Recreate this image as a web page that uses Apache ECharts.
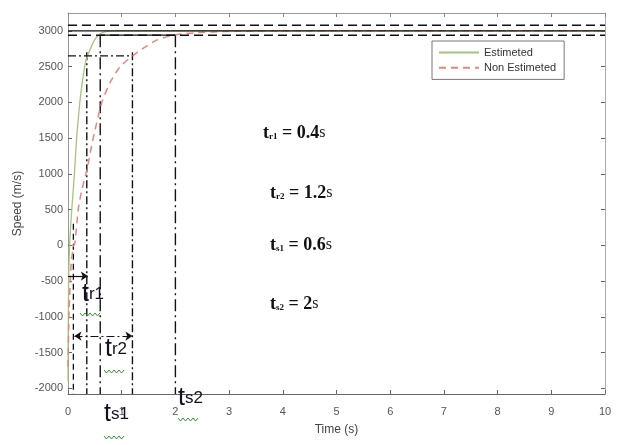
<!DOCTYPE html>
<html>
<head>
<meta charset="utf-8">
<script src="https://cdn.jsdelivr.net/npm/echarts@6/dist/echarts.min.js"></script>
<style>
  html, body { margin: 0; padding: 0; background: #fff; }
  #chart { width: 627px; height: 445px; }
</style>
</head>
<body>
<div id="chart"></div>
<script>
// tick labels
const timeTicks = [0, 1, 2, 3, 4, 5, 6, 7, 8, 9, 10];
const speedTicks = [-2000, -1500, -1000, -500, 0, 500, 1000, 1500, 2000, 2500, 3000];

// estimated speed response
const estTime = [0, 0.01, 0.03, 0.07, 0.12, 0.16, 0.22, 0.27, 0.33, 0.4, 0.5, 0.6, 0.75, 1, 2, 5, 10];
const estSpeed = [-1900, -600, 0, 500, 1000, 1500, 2000, 2300, 2580, 2720, 2880, 2960, 2995, 3000, 3000, 3000, 3000];

// non estimated speed response
const nonTime = [0, 0.02, 0.06, 0.1, 0.13, 0.19, 0.25, 0.35, 0.47, 0.63, 0.8, 0.97, 1.2, 1.45, 1.65, 1.95, 2.4, 3, 4, 10];
const nonSpeed = [-1700, -900, -250, -20, 40, 500, 750, 1050, 1500, 2000, 2300, 2500, 2650, 2780, 2870, 2940, 2975, 2992, 3000, 3000];

// reference levels
const refSpeed = 3000;
const bandSpeed = [3080, 2940];
const riseSpeed = 2650;

// annotation times: tr1 edge, ts1, tr2, ts2
const markTimes = [0.35, 0.6, 1.2, 2.0];
const markTops = [2700, 2940, 2700, 2940];

const xMin = 0, xMax = 10, yMin = -2080, yMax = 3250;

const chart = echarts.init(document.getElementById('chart'));

const zip = (a, b) => a.map((v, i) => [v, b[i]]);
const dashDot = [8, 3, 2, 3];
const longDashDot = [12, 4, 2, 4];

const vertSeries = markTimes.map((t, i) => ({
  type: 'line', silent: true, showSymbol: false, symbol: 'none',
  data: [[t, markTops[i]], [t, yMin]],
  lineStyle: { color: '#111', width: 1.4, type: i % 2 === 0 ? dashDot : longDashDot },
  z: 3
}));

const axisFont = { fontFamily: 'Liberation Sans Narrow, Liberation Sans, Arial', fontSize: 11, color: '#555' };

function squiggle(x, y, n) {
  const pts = [];
  for (let i = 0; i <= n * 2; i++) pts.push([x + i * 2.5, y + (i % 2 ? 3 : 0)]);
  return {
    type: 'polyline', shape: { points: pts },
    style: { stroke: '#2f9a2f', lineWidth: 1, fill: null }, z: 20
  };
}

function handLabel(txt, x, y) {
  return {
    type: 'text', left: x, top: y, z: 20,
    style: {
      text: '{t|t}{s|' + txt + '}',
      rich: {
        t: { fontSize: 25, fontFamily: 'Liberation Sans Narrow, Liberation Sans', fill: '#111122' },
        s: { fontSize: 17, fontFamily: 'Liberation Sans Narrow, Liberation Sans', fill: '#111122' }
      }
    }
  };
}

function eqText(sub, val, x, y) {
  return {
    type: 'text', left: x, top: y, z: 20,
    style: {
      text: '{b|t}{s|' + sub + '}{b| = ' + val + '}{u|s}',
      rich: {
        b: { fontSize: 18, fontWeight: 'bold', fontFamily: 'Liberation Serif', fill: '#111' },
        s: { fontSize: 9, fontWeight: 'bold', fontFamily: 'Liberation Serif', fill: '#111', padding: [7, 0, 0, 0] },
        u: { fontSize: 16, fontFamily: 'Liberation Serif', fill: '#222' }
      }
    }
  };
}

const option = {
  animation: false,
  backgroundColor: '#fff',
  grid: { left: 68, right: 22, top: 13, bottom: 51 },
  legend: {
    data: ['Estimeted', 'Non Estimeted'],
    orient: 'vertical', left: 432, top: 41,
    padding: [6, 8, 6, 6], itemGap: 4, itemWidth: 40, itemHeight: 14,
    borderColor: '#777', borderWidth: 1, backgroundColor: '#fff',
    itemStyle: { opacity: 0 },
    textStyle: { fontFamily: 'Liberation Sans Narrow, Liberation Sans', fontSize: 11, color: '#333' }
  },
  xAxis: [
    {
      type: 'value', min: xMin, max: xMax, interval: 1,
      name: 'Time (s)', nameLocation: 'middle', nameGap: 30,
      nameTextStyle: { ...axisFont, fontSize: 12, color: '#444' },
      axisLine: { onZero: false, lineStyle: { color: '#666', width: 1 } },
      axisTick: { inside: true, length: 4, lineStyle: { color: '#666' } },
      axisLabel: { ...axisFont, margin: 12, formatter: v => timeTicks.includes(v) ? String(v) : '' },
      splitLine: { show: false }
    },
    {
      type: 'value', position: 'top', min: xMin, max: xMax, interval: 1,
      axisLine: { onZero: false, lineStyle: { color: '#999', width: 1 } },
      axisTick: { inside: true, length: 4, lineStyle: { color: '#888' } },
      axisLabel: { show: false }, splitLine: { show: false }
    }
  ],
  yAxis: [
    {
      type: 'value', min: yMin, max: yMax,
      name: 'Speed (m/s)', nameLocation: 'middle', nameGap: 42, nameRotate: 90,
      nameTextStyle: { ...axisFont, fontSize: 12, color: '#444' },
      axisLine: { show: true, onZero: false, lineStyle: { color: '#999', width: 1 } },
      axisTick: { show: true, inside: true, length: 4, customValues: speedTicks, lineStyle: { color: '#666' } },
      axisLabel: { ...axisFont, margin: 5, customValues: speedTicks, formatter: v => String(v) },
      splitLine: { show: false }
    },
    {
      type: 'value', position: 'right', min: yMin, max: yMax,
      axisLine: { show: true, onZero: false, lineStyle: { color: '#aaa', width: 1 } },
      axisTick: { show: true, inside: true, length: 4, customValues: speedTicks, lineStyle: { color: '#666' } },
      axisLabel: { show: false }, splitLine: { show: false }
    }
  ],
  series: [
    {
      name: 'Estimeted', type: 'line', showSymbol: false, symbol: 'none', smooth: 0.2,
      data: zip(estTime, estSpeed),
      lineStyle: { color: '#a6c47c', width: 1.3 }, itemStyle: { color: '#a6c47c' }, z: 4
    },
    {
      name: 'Non Estimeted', type: 'line', showSymbol: false, symbol: 'none', smooth: 0.2,
      data: zip(nonTime, nonSpeed),
      lineStyle: { color: '#e9857c', width: 1.5, type: [7, 5] }, itemStyle: { color: '#e9857c' }, z: 4
    },
    {
      type: 'line', silent: true, symbol: 'none',
      data: [[xMin, refSpeed], [xMax, refSpeed]],
      lineStyle: { color: '#111', width: 1.2 }, z: 5
    },
    ...bandSpeed.map(v => ({
      type: 'line', silent: true, symbol: 'none',
      data: [[xMin, v], [xMax, v]],
      lineStyle: { color: '#111', width: 1.5, type: [9, 5] }, z: 5
    })),
    {
      type: 'line', silent: true, symbol: 'none',
      data: [[xMin, riseSpeed], [markTimes[2], riseSpeed]],
      lineStyle: { color: '#111', width: 1.4, type: dashDot }, z: 5
    },
    {
      type: 'line', silent: true, symbol: 'none',
      data: [[markTimes[1], bandSpeed[1]], [markTimes[3], bandSpeed[1]]],
      lineStyle: { color: '#111', width: 1.4 }, z: 5
    },
    ...vertSeries,
    {
      type: 'line', silent: true, symbol: 'none',
      data: [[0.1, 300], [0.1, yMin]],
      lineStyle: { color: '#111', width: 1.3, type: [6, 4] }, z: 3
    },
    {
      type: 'line', silent: true, symbol: 'none', data: [],
      markLine: {
        silent: true, symbolSize: 7,
        label: { show: false },
        lineStyle: { color: '#111', width: 1.2 },
        data: [
          [{ coord: [0, -430], symbol: 'none', lineStyle: { type: 'solid' } }, { coord: [0.37, -430], symbol: 'arrow' }],
          [{ coord: [0.12, -1270], symbol: 'arrow', lineStyle: { type: dashDot } }, { coord: [1.2, -1270], symbol: 'arrow' }]
        ]
      }
    }
  ],
  graphic: [
    handLabel('r1', 82, 282),
    squiggle(80, 313, 4),
    handLabel('r2', 105, 337),
    squiggle(104, 370, 4),
    handLabel('s1', 104, 402),
    squiggle(104, 436, 4),
    handLabel('s2', 178, 386),
    squiggle(178, 418, 4),
    eqText('r1', '0.4', 263, 124),
    eqText('r2', '1.2', 270, 184),
    eqText('s1', '0.6', 270, 236),
    eqText('s2', '2', 270, 295)
  ]
};

chart.setOption(option);
</script>
</body>
</html>
